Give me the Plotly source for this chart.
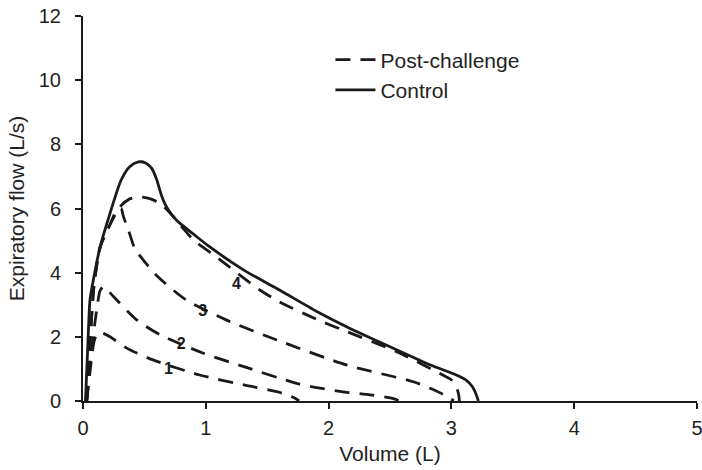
import plotly.graph_objects as go

# Control (solid)
control_x = [0.02, 0.04, 0.057, 0.084, 0.14, 0.22, 0.31, 0.38, 0.45, 0.51, 0.56, 0.6, 0.64, 0.68,
             0.76, 0.9, 1.03, 1.31, 1.6, 1.9, 2.15, 2.5, 2.83, 3.04, 3.12, 3.17, 3.2, 3.22]
control_y = [0.0, 1.8, 3.15, 3.77, 4.81, 5.85, 6.88, 7.3, 7.45, 7.42, 7.25, 6.9, 6.4, 6.05,
             5.64, 5.2, 4.81, 4.08, 3.46, 2.8, 2.31, 1.69, 1.12, 0.81, 0.65, 0.45, 0.22, 0.0]

# Post-challenge curves (dashed), numbered 1-4
pc1_x = [0.03, 0.06, 0.09, 0.12, 0.17, 0.22, 0.36, 0.57, 0.95, 1.31, 1.58, 1.72, 1.76]
pc1_y = [0.0, 1.0, 1.85, 2.13, 2.1, 2.0, 1.64, 1.28, 0.81, 0.5, 0.29, 0.1, 0.0]

pc2_x = [0.03, 0.07, 0.11, 0.14, 0.165, 0.2, 0.25, 0.44, 0.63, 0.98, 1.31, 1.74, 1.93, 2.13, 2.34, 2.52, 2.58]
pc2_y = [0.0, 1.6, 2.8, 3.45, 3.56, 3.45, 3.25, 2.52, 2.06, 1.49, 1.07, 0.55, 0.4, 0.28, 0.19, 0.08, 0.0]

pc3_x = [0.03, 0.06, 0.09, 0.14, 0.22, 0.28, 0.31, 0.33, 0.37, 0.42, 0.5, 0.61, 0.84, 1.17, 1.58, 2.15,
         2.69, 2.86, 2.96, 3.02]
pc3_y = [0.0, 2.0, 3.6, 4.8, 5.5, 5.98, 6.0, 5.74, 5.33, 4.77, 4.35, 3.87, 3.15, 2.52, 1.9, 1.12,
         0.6, 0.34, 0.15, 0.0]

pc4_x = [0.03, 0.06, 0.09, 0.14, 0.22, 0.3, 0.38, 0.46, 0.55, 0.63, 0.7, 0.8, 0.9, 1.1, 1.44, 1.6,
         1.9, 2.15, 2.55, 2.93, 3.0, 3.04, 3.06, 3.065]
pc4_y = [0.0, 2.0, 3.6, 4.8, 5.5, 6.05, 6.3, 6.36, 6.3, 6.15, 5.9, 5.45, 5.02, 4.45, 3.46, 3.09,
         2.55, 2.16, 1.54, 0.81, 0.66, 0.45, 0.18, 0.0]

label_text = ["1", "2", "3", "4"]
label_x = [0.695, 0.80, 0.975, 1.25]
label_y = [0.97, 1.74, 2.78, 3.63]

x_ticks = [0, 1, 2, 3, 4, 5]
y_ticks = [0, 2, 4, 6, 8, 10, 12]

INK = "#1a1a1a"
DASH = "15px,10px"
FONT = "Liberation Sans, Arial, sans-serif"

fig = go.Figure()
for i, (xs, ys) in enumerate([(pc1_x, pc1_y), (pc2_x, pc2_y), (pc3_x, pc3_y), (pc4_x, pc4_y)]):
    fig.add_trace(go.Scatter(
        x=xs, y=ys, mode="lines", name="Post-challenge",
        line=dict(color=INK, width=2.8, dash=DASH, shape="spline", smoothing=0.7),
        showlegend=(i == 3), legendrank=1,
    ))
fig.add_trace(go.Scatter(
    x=control_x, y=control_y, mode="lines", name="Control",
    line=dict(color=INK, width=2.8, shape="spline", smoothing=0.7),
    legendrank=2,
))
fig.add_trace(go.Scatter(
    x=label_x, y=label_y, mode="text", text=[f"<b>{t}</b>" for t in label_text],
    textfont=dict(size=16, color=INK, family=FONT),
    showlegend=False, hoverinfo="skip",
))

fig.update_layout(
    width=702, height=470,
    margin=dict(l=83, r=5, t=16, b=69, autoexpand=False),
    paper_bgcolor="white", plot_bgcolor="white",
    font=dict(family=FONT, size=20, color="#222"),
    legend=dict(x=0.403, y=0.939, xanchor="left", yanchor="top",
                font=dict(size=21, color="#222"), bgcolor="rgba(0,0,0,0)",
                traceorder="normal", itemwidth=40),
)
fig.update_xaxes(
    range=[0, 5], tickvals=x_ticks, ticks="outside", ticklen=6, tickwidth=2, tickcolor=INK,
    showline=True, linewidth=2, linecolor=INK, showgrid=False, zeroline=False,
    automargin=False, ticklabeloverflow="allow", ticklabelstandoff=2,
    title=dict(text="Volume (L)", standoff=8, font=dict(size=21)), tickfont=dict(size=20),
)
fig.update_yaxes(
    range=[0, 12], tickvals=y_ticks, ticks="outside", ticklen=6, tickwidth=2, tickcolor=INK,
    showline=True, linewidth=2, linecolor=INK, showgrid=False, zeroline=False,
    automargin=False, ticklabeloverflow="allow", ticklabelstandoff=10,
    title=dict(text="Expiratory flow (L/s)", standoff=8, font=dict(size=21)), tickfont=dict(size=20),
)

fig.write_html("out.html", config={"displayModeBar": False},
               post_script="document.body.style.margin='0';")
